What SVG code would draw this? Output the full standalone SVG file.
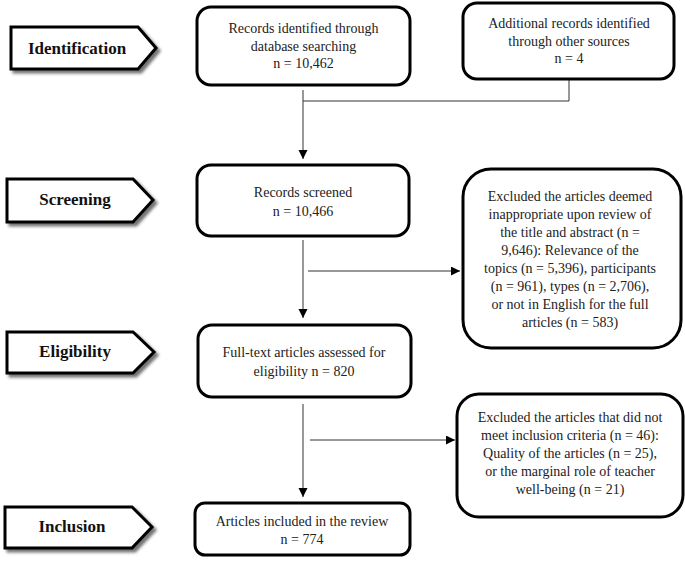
<svg xmlns="http://www.w3.org/2000/svg" width="685" height="561" viewBox="0 0 685 561">
<style>
.stage{fill:#fff;stroke:#000;stroke-width:3;stroke-linejoin:miter;filter:url(#sh)}
.stxt{font-family:"Liberation Serif","Times New Roman",serif;font-weight:bold;font-size:17px;fill:#111;text-anchor:middle}
.box{fill:#fff;stroke:#000;stroke-width:3}
.t{font-family:"Liberation Serif","Times New Roman",serif;font-size:14px;fill:#222;text-anchor:middle}
.ln{fill:none;stroke:#333;stroke-width:1}
.ar{marker-end:url(#ah)}
</style>
<defs>
<filter id="sh" x="-10%" y="-20%" width="130%" height="160%">
<feDropShadow dx="3" dy="3" stdDeviation="1.8" flood-color="#000" flood-opacity="0.55"/>
</filter>
<marker id="ah" markerUnits="userSpaceOnUse" markerWidth="10" markerHeight="10" refX="9" refY="4.5" orient="auto">
<path d="M0,0 L9,4.5 L0,9 Z" fill="#000"/>
</marker>
</defs>

<g id="stage-identification">
<polygon class="stage" points="11,27 138,27 156,48 138,69 11,69"/>
<text class="stxt" x="77" y="54">Identification</text>
</g>
<g id="stage-screening">
<polygon class="stage" points="7,179 133,179 153,200 133,222 7,222"/>
<text class="stxt" x="75" y="205">Screening</text>
</g>
<g id="stage-eligibility">
<polygon class="stage" points="7,332 133,332 154,352 133,373 7,373"/>
<text class="stxt" x="75" y="357">Eligibility</text>
</g>
<g id="stage-inclusion">
<polygon class="stage" points="5,507 132,507 152,527 132,548 5,548"/>
<text class="stxt" x="72" y="532">Inclusion</text>
</g>

<g id="connectors">
<line class="ln ar" x1="303" y1="90" x2="303" y2="159"/>
<polyline class="ln" points="569,80 569,101 303,101"/>
<line class="ln ar" x1="303" y1="240" x2="303" y2="318"/>
<line class="ln ar" x1="308" y1="271" x2="460" y2="271"/>
<line class="ln ar" x1="303" y1="404" x2="303" y2="497"/>
<line class="ln ar" x1="310" y1="440" x2="455" y2="440"/>
</g>

<g id="n-records-db">
<rect class="box" x="197" y="7" width="213" height="78" rx="14"/>
<text class="t" x="303.5" y="33">Records identified through</text>
<text class="t" x="303.5" y="50.5">database searching</text>
<text class="t" x="303.5" y="68">n = 10,462</text>
</g>
<g id="n-records-other">
<rect class="box" x="463" y="3" width="211" height="76" rx="14"/>
<text class="t" x="569" y="28">Additional records identified</text>
<text class="t" x="569" y="45.5">through other sources</text>
<text class="t" x="569" y="63">n = 4</text>
</g>
<g id="n-screened">
<rect class="box" x="197" y="165" width="212" height="71" rx="14"/>
<text class="t" x="303" y="197">Records screened</text>
<text class="t" x="303" y="216">n = 10,466</text>
</g>
<g id="n-excluded-1">
<rect class="box" x="463" y="169" width="218" height="179" rx="28"/>
<text class="t" x="570" y="201">Excluded the articles deemed</text>
<text class="t" x="570" y="219">inappropriate upon review of</text>
<text class="t" x="570" y="237">the title and abstract (n =</text>
<text class="t" x="570" y="255">9,646): Relevance of the</text>
<text class="t" x="570" y="273">topics (n = 5,396), participants</text>
<text class="t" x="570" y="291">(n = 961), types (n = 2,706),</text>
<text class="t" x="570" y="309">or not in English for the full</text>
<text class="t" x="570" y="327">articles (n = 583)</text>
</g>
<g id="n-fulltext">
<rect class="box" x="198" y="325" width="213" height="72" rx="14"/>
<text class="t" x="304" y="357">Full-text articles assessed for</text>
<text class="t" x="304" y="376">eligibility n = 820</text>
</g>
<g id="n-excluded-2">
<rect class="box" x="457" y="394" width="226" height="123" rx="22"/>
<text class="t" x="570" y="421.5">Excluded the articles that did not</text>
<text class="t" x="570" y="439.5">meet inclusion criteria (n = 46):</text>
<text class="t" x="570" y="457.5">Quality of the articles (n = 25),</text>
<text class="t" x="570" y="475.5">or the marginal role of teacher</text>
<text class="t" x="570" y="493.5">well-being (n = 21)</text>
</g>
<g id="n-included">
<rect class="box" x="195" y="503" width="215" height="52" rx="10"/>
<text class="t" x="302" y="526">Articles included in the review</text>
<text class="t" x="302" y="544">n = 774</text>
</g>
</svg>
